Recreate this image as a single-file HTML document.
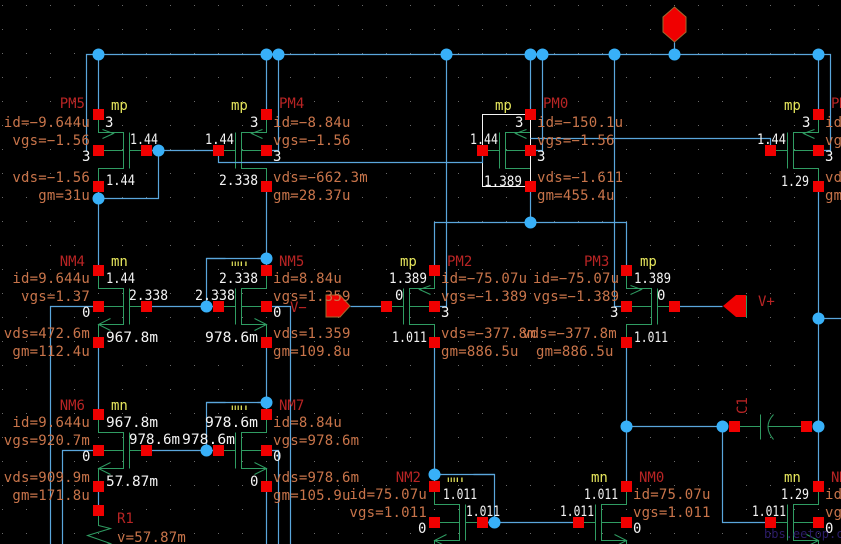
<!DOCTYPE html>
<html>
<head>
<meta charset="utf-8">
<style>
html,body{margin:0;padding:0;background:#000;width:841px;height:544px;overflow:hidden}
svg{display:block}
text{font-family:"DejaVu Sans Mono","Liberation Mono",monospace;font-size:14px}
.o{fill:#c8744a;letter-spacing:.2px}
.n{fill:#b82424}
.y{fill:#e6e65c}
.w{fill:#f4f4f4}
.e{text-anchor:end}
.wire{fill:none;stroke:#5aa6dc;stroke-width:1.2}
.g{fill:none;stroke:#2f9c62;stroke-width:1}
</style>
</head>
<body>
<svg width="841" height="544" viewBox="0 0 841 544" xmlns="http://www.w3.org/2000/svg">
<defs>
<pattern id="dots" x="2" y="5" width="24" height="24" patternUnits="userSpaceOnUse"><rect width="1" height="1" fill="#6a6a6a"/></pattern>
<rect id="r" x="-5.5" y="-5.5" width="11" height="11" fill="#f00000"/>
<circle id="c" r="6" fill="#38b0f8"/>
<g id="mp" class="g"><path d="M0 -36V-18H25V18H0V36M0 0H25M25 -18V18M31 -18V18M31 0H48M4 -21L15 -17L4 -12"/></g>
<g id="mn" class="g"><path d="M0 -36V-18H25V18H0V36M0 0H25M25 -18V18M31 -18V18M31 0H48M12 12L0 18L12 24"/></g>
</defs>
<rect width="841" height="544" fill="#000"/>
<rect width="841" height="544" fill="url(#dots)"/>

<g transform="translate(.5 .5)">
<!-- green devices -->
<use href="#mp" transform="translate(98,150)"/>
<use href="#mp" transform="translate(266,150) scale(-1,1)"/>
<use href="#mp" transform="translate(530,150) scale(-1,1)"/>
<use href="#mp" transform="translate(818,150) scale(-1,1)"/>
<use href="#mp" transform="translate(434,306) scale(-1,1)"/>
<use href="#mp" transform="translate(626,306)"/>
<use href="#mn" transform="translate(98,306)"/>
<use href="#mn" transform="translate(266,306) scale(-1,1)"/>
<use href="#mn" transform="translate(98,450)"/>
<use href="#mn" transform="translate(266,450) scale(-1,1)"/>
<use href="#mn" transform="translate(434,522)"/>
<use href="#mn" transform="translate(626,522) scale(-1,1)"/>
<use href="#mn" transform="translate(818,522) scale(-1,1)"/>
<path class="g" d="M98 510V525L110 528L87 535L110 543L98 546M734 426H760M760 414V439M773 414Q762 426 773 439M767 426H806M746 295V317"/>

<!-- white box -->
<rect x="482" y="114" width="48" height="72" fill="none" stroke="#f4f4f4"/>

<!-- wires -->
<path class="wire" d="M86 150V54H830V150H818
M98 54V114M266 54V114M278 54V150H266M446 54V306H434M530 54V114M542 54V150H530M614 54V306H626M818 54V114M674 42V54
M98 186V270M98 198H158V150M146 150H218V162H482V150
M266 186V270M266 258H206V306M146 306H218
M98 342V414M266 342V414M266 402H206V450M146 450H218
M50 544V306H98M62 544V450H98M290 544V306H266M278 544V450H266
M98 486V510M266 486V544
M530 186V222M434 270V222H626V270
M530 138H770V150
M350 306H386M674 306H722
M434 342V486M434 474H494V522M482 522H578
M626 342V486M626 426H722M722 426V522H770
M818 186V486M818 318H841"/>
</g>

<!-- port shapes -->
<polygon points="674.5,7 686,17 686,32 674.5,42 663,32 663,17" fill="#f00000" stroke="#a06a30"/>
<polygon points="326,295 340,295 350,306 340,317 326,317" fill="#f00000" stroke="#a06a30"/>
<polygon points="746,295 736,295 723,306 736,317 746,317" fill="#f00000"/>

<!-- PM5 -->
<text class="n e" x="85" y="108">PM5</text><text class="y" x="111" y="110">mp</text>
<text class="o e" x="90" y="127">id=−9.644u</text><text class="w" x="105" y="127">3</text>
<text class="o e" x="90" y="145">vgs=−1.56</text><text class="w" x="130" y="144" textLength="28" lengthAdjust="spacingAndGlyphs">1.44</text>
<text class="w" x="82" y="161">3</text>
<text class="o e" x="90" y="182">vds=−1.56</text><text class="w" x="106" y="185" textLength="29" lengthAdjust="spacingAndGlyphs">1.44</text>
<text class="o e" x="90" y="200">gm=31u</text>
<!-- PM4 -->
<text class="n" x="279" y="108">PM4</text><text class="y" x="231" y="110">mp</text>
<text class="o" x="273" y="127">id=−8.84u</text><text class="w" x="250" y="127">3</text>
<text class="o" x="273" y="145">vgs=−1.56</text><text class="w" x="205" y="144" textLength="29" lengthAdjust="spacingAndGlyphs">1.44</text>
<text class="w" x="273" y="161">3</text>
<text class="o" x="273" y="182">vds=−662.3m</text><text class="w" x="219" y="185" textLength="39" lengthAdjust="spacingAndGlyphs">2.338</text>
<text class="o" x="273" y="200">gm=28.37u</text>
<!-- PM0 -->
<text class="n" x="543" y="108">PM0</text><text class="y" x="495" y="110">mp</text>
<text class="o" x="537" y="127">id=−150.1u</text><text class="w" x="515" y="127">3</text>
<text class="o" x="537" y="145">vgs=−1.56</text><text class="w" x="470" y="144" textLength="28" lengthAdjust="spacingAndGlyphs">1.44</text>
<text class="w" x="537" y="161">3</text>
<text class="o" x="537" y="182">vds=−1.611</text><text class="w" x="484" y="186" textLength="38" lengthAdjust="spacingAndGlyphs">1.389</text>
<text class="o" x="537" y="200">gm=455.4u</text>
<!-- right PM -->
<text class="n" x="831" y="108">PM1</text><text class="y" x="784" y="110">mp</text>
<text class="o" x="825" y="127">id=−75u</text><text class="w" x="802" y="127">3</text>
<text class="o" x="825" y="145">vgs</text><text class="w" x="757" y="144" textLength="29" lengthAdjust="spacingAndGlyphs">1.44</text>
<text class="w" x="825" y="161">3</text>
<text class="o" x="825" y="182">vds</text><text class="w" x="781" y="186" textLength="28" lengthAdjust="spacingAndGlyphs">1.29</text>
<text class="o" x="825" y="200">gm</text>

<!-- NM4 -->
<text class="n e" x="85" y="266">NM4</text><text class="y" x="111" y="266">mn</text>
<text class="o e" x="90" y="283">id=9.644u</text><text class="w" x="106" y="283" textLength="29" lengthAdjust="spacingAndGlyphs">1.44</text>
<text class="o e" x="90" y="301">vgs=1.37</text><text class="w" x="129" y="300" textLength="39" lengthAdjust="spacingAndGlyphs">2.338</text>
<text class="w" x="82" y="317">0</text>
<text class="o e" x="90" y="338">vds=472.6m</text><text class="w" x="106" y="342" textLength="52" lengthAdjust="spacingAndGlyphs">967.8m</text>
<text class="o e" x="90" y="356">gm=112.4u</text>
<!-- NM5 -->
<text class="n" x="279" y="266">NM5</text><text class="y" x="231" y="266">mn</text>
<text class="o" x="273" y="283">id=8.84u</text><text class="w" x="219" y="283" textLength="39" lengthAdjust="spacingAndGlyphs">2.338</text>
<text class="o" x="273" y="301">vgs=1.359</text><text class="w" x="195" y="300" textLength="40" lengthAdjust="spacingAndGlyphs">2.338</text>
<text class="w" x="273" y="317">0</text><text class="n" x="290" y="312">V−</text>
<text class="o" x="273" y="338">vds=1.359</text><text class="w" x="205" y="342" textLength="53" lengthAdjust="spacingAndGlyphs">978.6m</text>
<text class="o" x="273" y="356">gm=109.8u</text>
<!-- PM2 -->
<text class="n" x="447" y="266">PM2</text><text class="y" x="400" y="266">mp</text>
<text class="o" x="441" y="283">id=−75.07u</text><text class="w" x="389" y="283" textLength="38" lengthAdjust="spacingAndGlyphs">1.389</text>
<text class="o" x="441" y="301">vgs=−1.389</text><text class="w" x="395" y="300">0</text>
<text class="w" x="441" y="317">3</text>
<text class="o" x="441" y="338">vds=−377.8m</text><text class="w" x="392" y="342" textLength="35" lengthAdjust="spacingAndGlyphs">1.011</text>
<text class="o" x="441" y="356">gm=886.5u</text>
<!-- PM3 -->
<text class="n" x="584" y="266">PM3</text><text class="y" x="640" y="266">mp</text>
<text class="o" x="533" y="283">id=−75.07u</text><text class="w" x="634" y="283" textLength="37" lengthAdjust="spacingAndGlyphs">1.389</text>
<text class="o" x="533" y="301">vgs=−1.389</text><text class="w" x="657" y="300">0</text>
<text class="w" x="610" y="317">3</text>
<text class="o" x="522" y="338">vds=−377.8m</text><text class="w" x="634" y="342" textLength="34" lengthAdjust="spacingAndGlyphs">1.011</text>
<text class="o" x="536" y="356">gm=886.5u</text>
<text class="n" x="758" y="306">V+</text>

<!-- NM6 -->
<text class="n e" x="85" y="410">NM6</text><text class="y" x="111" y="410">mn</text>
<text class="o e" x="90" y="427">id=9.644u</text><text class="w" x="106" y="427" textLength="52" lengthAdjust="spacingAndGlyphs">967.8m</text>
<text class="o e" x="90" y="445">vgs=920.7m</text><text class="w" x="129" y="444" textLength="51" lengthAdjust="spacingAndGlyphs">978.6m</text>
<text class="w" x="82" y="461">0</text>
<text class="o e" x="90" y="482">vds=909.9m</text><text class="w" x="106" y="486" textLength="52" lengthAdjust="spacingAndGlyphs">57.87m</text>
<text class="o e" x="90" y="500">gm=171.8u</text>
<text class="n" x="117" y="523">R1</text><text class="o" x="117" y="542">v=57.87m</text>
<!-- NM7 -->
<text class="n" x="279" y="410">NM7</text><text class="y" x="231" y="410">mn</text>
<text class="o" x="273" y="427">id=8.84u</text><text class="w" x="205" y="427" textLength="53" lengthAdjust="spacingAndGlyphs">978.6m</text>
<text class="o" x="273" y="445">vgs=978.6m</text><text class="w" x="182" y="444" textLength="53" lengthAdjust="spacingAndGlyphs">978.6m</text>
<text class="w" x="273" y="461">0</text>
<text class="o" x="273" y="482">vds=978.6m</text><text class="w" x="250" y="486">0</text>
<text class="o" x="273" y="500">gm=105.9u</text>
<!-- NM2 -->
<text class="n e" x="421" y="482">NM2</text><text class="y" x="447" y="482">mn</text>
<text class="o e" x="427" y="499">id=75.07u</text><text class="w" x="443" y="499" textLength="34" lengthAdjust="spacingAndGlyphs">1.011</text>
<text class="o e" x="427" y="517">vgs=1.011</text><text class="w" x="466" y="516" textLength="34" lengthAdjust="spacingAndGlyphs">1.011</text>
<text class="w" x="418" y="533">0</text>
<!-- NM0 -->
<text class="n" x="639" y="482">NM0</text><text class="y" x="591" y="482">mn</text>
<text class="o" x="633" y="499">id=75.07u</text><text class="w" x="584" y="499" textLength="34" lengthAdjust="spacingAndGlyphs">1.011</text>
<text class="o" x="633" y="517">vgs=1.011</text><text class="w" x="560" y="516" textLength="34" lengthAdjust="spacingAndGlyphs">1.011</text>
<text class="w" x="633" y="533">0</text>
<!-- right NM -->
<text class="n" x="831" y="482">NM1</text><text class="y" x="784" y="482">mn</text>
<text class="o" x="825" y="499">id=</text><text class="w" x="781" y="499" textLength="28" lengthAdjust="spacingAndGlyphs">1.29</text>
<text class="o" x="825" y="517">vgs</text><text class="w" x="752" y="516" textLength="34" lengthAdjust="spacingAndGlyphs">1.011</text>
<text class="w" x="825" y="533">0</text>

<text class="n" transform="translate(747,414) rotate(-90)">C1</text>
<text x="764" y="538" style="font-size:12px;fill:#2c1c68">bbs.eetop.cn</text>

<g transform="translate(.5 .5)">
<!-- wire segments and black masks drawn over the mn labels they cut through -->
<rect x="225" y="246" width="32" height="15" fill="#000"/>
<rect x="225" y="390" width="32" height="15" fill="#000"/>
<rect x="441" y="462" width="32" height="15" fill="#000"/>
<path class="wire" d="M206 258H266M206 402H266M434 474H494"/>

<!-- junction dots -->
<use href="#c" x="98" y="54"/><use href="#c" x="266" y="54"/><use href="#c" x="278" y="54"/>
<use href="#c" x="446" y="54"/><use href="#c" x="530" y="54"/><use href="#c" x="542" y="54"/>
<use href="#c" x="614" y="54"/><use href="#c" x="674" y="54"/><use href="#c" x="818" y="54"/>
<use href="#c" x="158" y="150"/><use href="#c" x="98" y="198"/><use href="#c" x="530" y="222"/>
<use href="#c" x="266" y="258"/><use href="#c" x="206" y="306"/><use href="#c" x="818" y="318"/>
<use href="#c" x="266" y="402"/><use href="#c" x="206" y="450"/><use href="#c" x="626" y="426"/>
<use href="#c" x="722" y="426"/><use href="#c" x="818" y="426"/><use href="#c" x="434" y="474"/>
<use href="#c" x="494" y="522"/>

<!-- red pins -->
<use href="#r" x="98" y="114"/><use href="#r" x="98" y="150"/><use href="#r" x="146" y="150"/><use href="#r" x="98" y="186"/>
<use href="#r" x="266" y="114"/><use href="#r" x="266" y="150"/><use href="#r" x="218" y="150"/><use href="#r" x="266" y="186"/>
<use href="#r" x="530" y="114"/><use href="#r" x="530" y="150"/><use href="#r" x="482" y="150"/><use href="#r" x="530" y="186"/>
<use href="#r" x="818" y="114"/><use href="#r" x="818" y="150"/><use href="#r" x="770" y="150"/><use href="#r" x="818" y="186"/>
<use href="#r" x="98" y="270"/><use href="#r" x="98" y="306"/><use href="#r" x="146" y="306"/><use href="#r" x="98" y="342"/>
<use href="#r" x="266" y="270"/><use href="#r" x="266" y="306"/><use href="#r" x="218" y="306"/><use href="#r" x="266" y="342"/>
<use href="#r" x="434" y="270"/><use href="#r" x="434" y="306"/><use href="#r" x="386" y="306"/><use href="#r" x="434" y="342"/>
<use href="#r" x="626" y="270"/><use href="#r" x="626" y="306"/><use href="#r" x="674" y="306"/><use href="#r" x="626" y="342"/>
<use href="#r" x="98" y="414"/><use href="#r" x="98" y="450"/><use href="#r" x="146" y="450"/><use href="#r" x="98" y="486"/><use href="#r" x="98" y="510"/>
<use href="#r" x="266" y="414"/><use href="#r" x="266" y="450"/><use href="#r" x="218" y="450"/><use href="#r" x="266" y="486"/>
<use href="#r" x="434" y="486"/><use href="#r" x="434" y="522"/><use href="#r" x="482" y="522"/>
<use href="#r" x="626" y="486"/><use href="#r" x="626" y="522"/><use href="#r" x="578" y="522"/>
<use href="#r" x="818" y="486"/><use href="#r" x="818" y="522"/><use href="#r" x="770" y="522"/>
<use href="#r" x="734" y="426"/><use href="#r" x="806" y="426"/>
</g>
</svg>
</body>
</html>
